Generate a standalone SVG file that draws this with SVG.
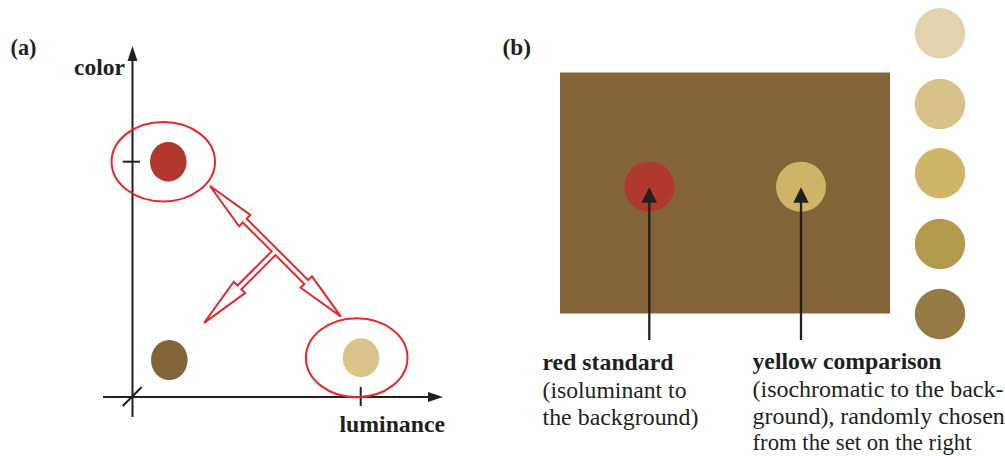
<svg xmlns="http://www.w3.org/2000/svg" width="1005" height="456" viewBox="0 0 1005 456">
  <style>
    .lbl { font-size: 23px; fill: #231f20; }
    .b { font-weight: bold; }
    .ax { stroke: #231f20; stroke-width: 2; fill: none; }
    .ring { stroke: #e8272b; stroke-width: 2; fill: none; }
    .hollow { stroke: #e8272b; stroke-width: 2; fill: #ffffff; stroke-linejoin: miter; }
    .pt { stroke: #231f20; stroke-width: 2.3; fill: none; }
    .head { fill: #231f20; }
  </style>
  <rect width="1005" height="456" fill="#ffffff"/>

  <g font-family="'Liberation Serif', 'Times New Roman', serif">
  <!-- Panel (a) -->
  <text class="lbl b" x="10.5" y="55" textLength="26" lengthAdjust="spacingAndGlyphs">(a)</text>

  <g id="axes">
    <line class="ax" x1="132.5" y1="417" x2="132.5" y2="58"/>
    <polygon class="head" points="132.5,46 127.5,61 137.5,61"/>
    <line class="ax" x1="103" y1="397" x2="431" y2="397"/>
    <polygon class="head" points="443,397 428,392 428,402"/>
    <line class="ax" x1="122.7" y1="161.7" x2="140" y2="161.7"/>
    <line class="ax" x1="360.7" y1="387" x2="360.7" y2="406"/>
    <line class="ax" x1="122.7" y1="406" x2="141.7" y2="387"/>
    <text class="lbl b" x="74" y="75" textLength="51" lengthAdjust="spacingAndGlyphs">color</text>
    <text class="lbl b" x="339.5" y="431.5" textLength="105.5" lengthAdjust="spacingAndGlyphs">luminance</text>
  </g>

  <g id="node-red-a">
    <ellipse cx="168.3" cy="161.7" rx="18.3" ry="19.7" fill="#b0382d"/>
    <ellipse class="ring" cx="163.3" cy="161.7" rx="51.7" ry="39.7"/>
  </g>
  <g id="node-brown-a">
    <ellipse cx="169.3" cy="360" rx="18.3" ry="20" fill="#826438"/>
  </g>
  <g id="node-beige-a">
    <ellipse cx="361" cy="357.7" rx="18.3" ry="19.5" fill="#dbc48c"/>
    <ellipse class="ring" cx="356.7" cy="357.7" rx="50.8" ry="39.5"/>
  </g>

  <g id="connectors-a">
    <polygon class="hollow" transform="translate(210,186) rotate(44.93)"
      points="0,0 49,-8 49,-2.7 136,-2.7 136,-8 185,0 136,8 136,2.7 95.2,2.7 95.2,51 100.5,51 92.5,101 84.5,51 89.8,51 89.8,2.7 49,2.7 49,8"/>
  </g>

  <!-- Panel (b) -->
  <text class="lbl b" x="502.5" y="55" textLength="28.5" lengthAdjust="spacingAndGlyphs">(b)</text>

  <g id="background">
    <rect x="560" y="72.5" width="330" height="241" fill="#826438"/>
  </g>
  <g id="node-red-standard">
    <circle cx="649.3" cy="186.7" r="25" fill="#b0382d"/>
  </g>
  <g id="node-yellow-comparison">
    <circle cx="801" cy="186.7" r="25" fill="#cfb468"/>
  </g>

  <g id="comparison-set">
    <circle cx="940" cy="33.3" r="25.2" fill="#e2d3ac"/>
    <circle cx="940" cy="104" r="25.2" fill="#d9c28a"/>
    <circle cx="940" cy="173.3" r="25.2" fill="#d0b467"/>
    <circle cx="940" cy="244" r="25.2" fill="#b39a4e"/>
    <circle cx="940" cy="314" r="25.2" fill="#957a45"/>
  </g>

  <g id="connectors-b">
    <line class="pt" x1="649.3" y1="340" x2="649.3" y2="200"/>
    <polygon class="head" points="649.3,187.3 641.6,202.7 657,202.7"/>
    <line class="pt" x1="801" y1="340" x2="801" y2="200"/>
    <polygon class="head" points="801,187.3 793.3,202.7 808.7,202.7"/>
  </g>

  <g id="label-red">
    <text class="lbl b" x="542.5" y="370" textLength="131" lengthAdjust="spacingAndGlyphs">red standard</text>
    <text class="lbl" x="542.5" y="397.5" textLength="144" lengthAdjust="spacingAndGlyphs">(isoluminant to</text>
    <text class="lbl" x="542.5" y="425" textLength="156" lengthAdjust="spacingAndGlyphs">the background)</text>
  </g>
  <g id="label-yellow">
    <text class="lbl b" x="752.5" y="369" textLength="189" lengthAdjust="spacingAndGlyphs">yellow comparison</text>
    <text class="lbl" x="752.5" y="396.5" textLength="251" lengthAdjust="spacingAndGlyphs">(isochromatic to the back-</text>
    <text class="lbl" x="752.5" y="424" textLength="252.3" lengthAdjust="spacingAndGlyphs">ground), randomly chosen</text>
    <text class="lbl" x="752.5" y="449.5" textLength="219" lengthAdjust="spacingAndGlyphs">from the set on the right</text>
  </g>
  </g>
</svg>
